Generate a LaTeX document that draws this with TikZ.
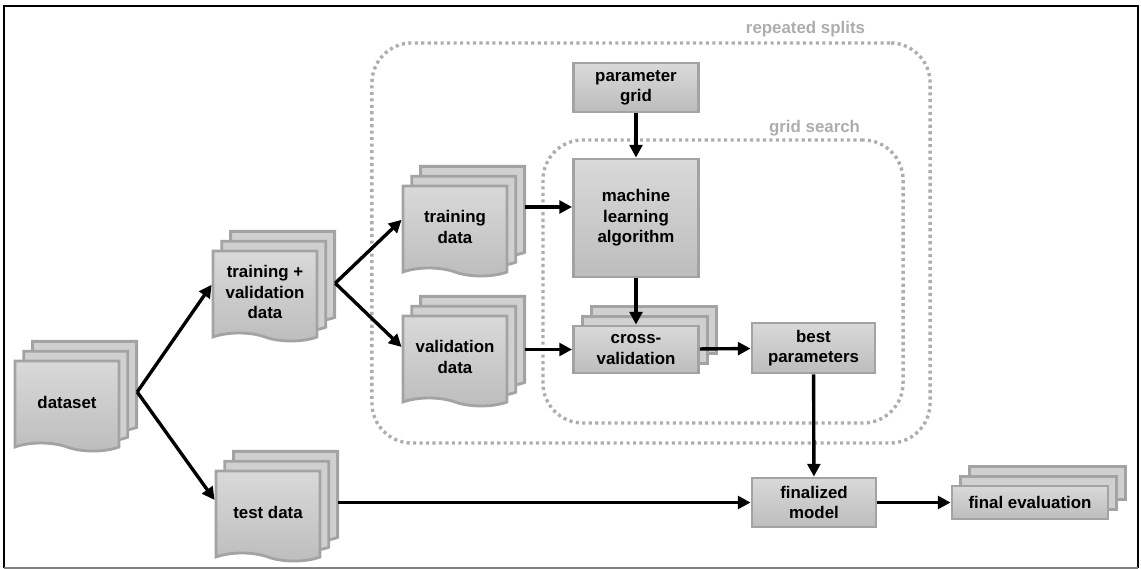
\documentclass[tikz,border=0pt]{standalone}
\usepackage{fontspec}
\setmainfont{Liberation Sans}
\usetikzlibrary{shapes.symbols, arrows.meta, shadows}

\definecolor{boxtop}{HTML}{D9D9D9}
\definecolor{boxbottom}{HTML}{BDBDBD}
\definecolor{boxline}{HTML}{A3A3A3}
\definecolor{sheetfill}{HTML}{D0D0D0}
\definecolor{groupgray}{HTML}{ADADAD}

\begin{document}
\begin{tikzpicture}[
    x=0.025cm, y=-0.025cm,
    every node/.style={font=\fontsize{12}{14.5}\selectfont\bfseries, align=center, text=black},
    box/.style={rectangle, draw=boxline, line width=2pt, top color=boxtop, bottom color=boxbottom, minimum width=3.125cm, minimum height=1.225cm, inner sep=2pt},
    stack/.style={general shadow={shadow xshift=0.44cm, shadow yshift=0.49cm, fill=sheetfill, draw=boxline, line width=2pt},
                  general shadow={shadow xshift=0.22cm, shadow yshift=0.245cm, fill=sheetfill, draw=boxline, line width=2pt}},
    doc/.style={box, stack, tape, tape bend top=none, tape bend bottom=out and in, tape bend height=0.2cm, minimum width=2.6cm, minimum height=2.25cm},
    group/.style={rectangle, draw=groupgray, line width=2.4pt, dash pattern=on 2.2pt off 2.4pt, rounded corners=1cm},
    grouplabel/.style={text=groupgray, anchor=east},
    arrow/.style={-{Triangle[length=9pt, width=9pt]}, line width=2.4pt}
]
\useasboundingbox (0,0) rectangle (1141,569);

% FRAME
\draw[line width=2pt] (4,568) -- (4,6) -- (1138,6) -- (1138,568);
\draw[gray, line width=0.8pt] (4,568) -- (1138,568);

% GROUPS
\node[group, minimum width=13.95cm, minimum height=10cm] (splits) at (651,243) {};
\node[group, minimum width=9cm, minimum height=7.075cm] (search) at (723,281.5) {};
\node[grouplabel] (splitslabel) at (870,29) {repeated splits};
\node[grouplabel] (searchlabel) at (865,128) {grid search};

% NODES
\node[doc] (dataset) at (67,402) {dataset};
\node[doc] (trainval) at (265,292) {training +\\validation\\data};
\node[doc] (test) at (268,512) {test data};
\node[doc] (training) at (455,227) {training\\data};
\node[doc] (validation) at (455,357) {validation\\data};
\node[box] (grid) at (636,87.5) {parameter\\grid};
\node[box, minimum height=2.95cm] (algorithm) at (636,218) {machine\\learning\\algorithm};
\node[box, stack, minimum height=1.175cm] (crossval) at (636,349.5) {cross-\\validation};
\node[box, minimum width=3.075cm, minimum height=1.25cm] (best) at (813.5,348) {best\\parameters};
\node[box, minimum width=3.1cm] (model) at (814,502.5) {finalized\\model};
\node[box, stack, minimum width=3.9cm, minimum height=0.825cm] (evaluation) at (1030,502.5) {final evaluation};

% ARROWS
\coordinate (datasetout) at ([xshift=0.42cm, yshift=0.25cm]dataset.east);
\draw[arrow] (datasetout) -- ([yshift=0.18cm]trainval.west);
\draw[arrow] (datasetout) -- ([yshift=0.3cm]test.west);
\coordinate (trainvalout) at ([xshift=0.42cm, yshift=0.22cm]trainval.east);
\draw[arrow] (trainvalout) -- ([yshift=0.18cm]training.west);
\draw[arrow] (trainvalout) -- ([yshift=0.25cm]validation.west);
\coordinate (trainingout) at ([xshift=0.42cm, yshift=0.5cm]training.east);
\draw[arrow] (trainingout) -- (trainingout -| algorithm.west);
\coordinate (validationout) at ([xshift=0.42cm]validation.east);
\draw[arrow] (validationout |- crossval.west) -- (crossval.west);
\draw[arrow] (grid) -- (algorithm);
\draw[arrow] (algorithm) -- (crossval);
\draw[arrow] (crossval) -- (best);
\draw[arrow] (best) -- (model);
\coordinate (testout) at ([xshift=0.42cm]test.east);
\draw[arrow] (testout |- model.west) -- (model.west);
\draw[arrow] (model) -- (evaluation);

\end{tikzpicture}
\end{document}
